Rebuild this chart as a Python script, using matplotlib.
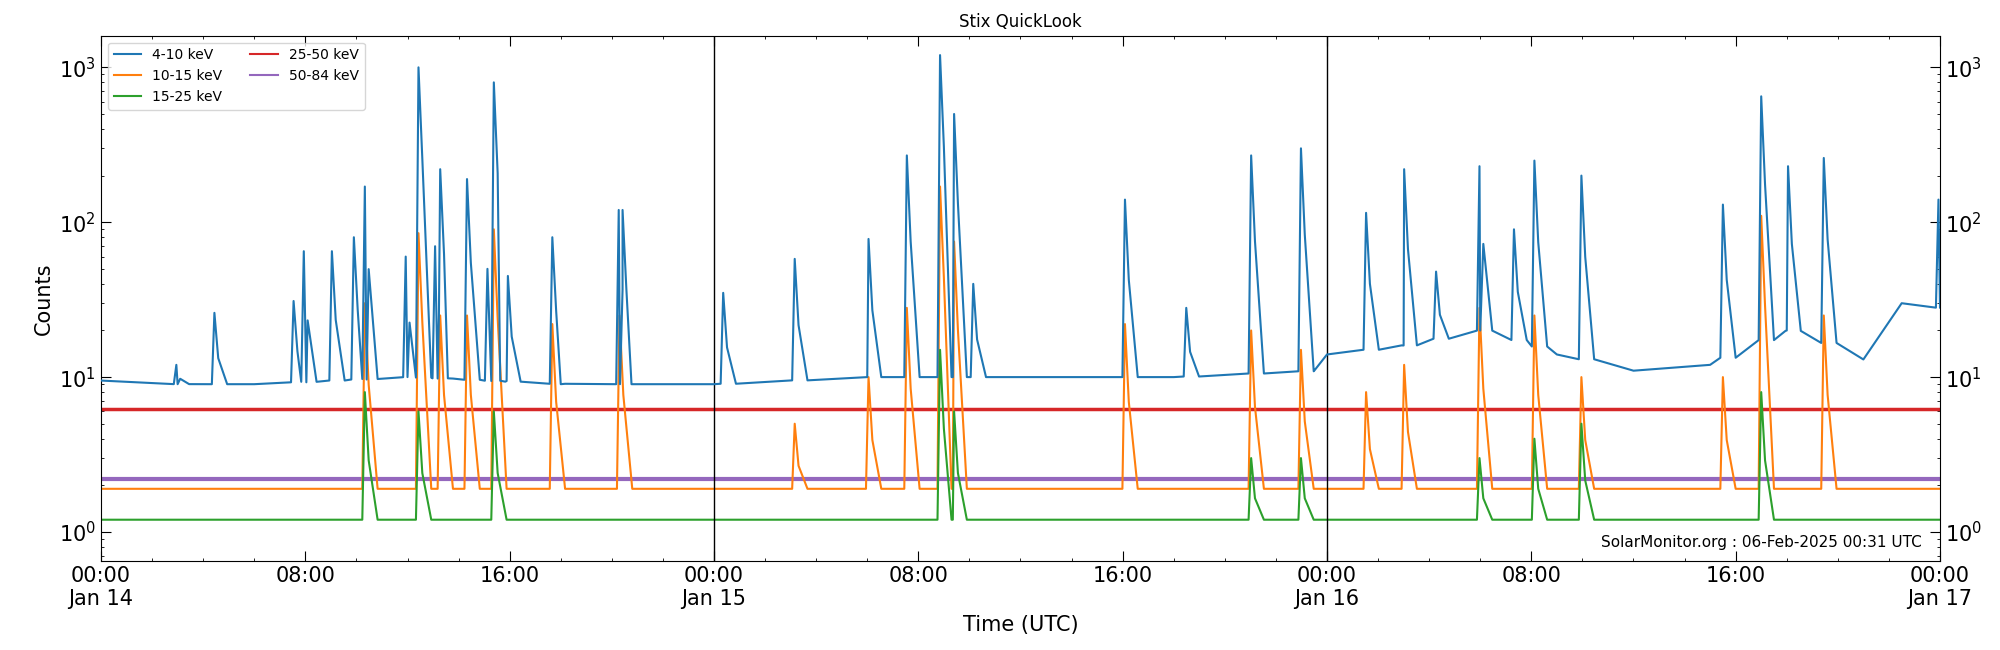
import matplotlib
matplotlib.use("Agg")
import matplotlib.pyplot as plt
import numpy as np

# Peak times (hours since Jan 14 00:00 UTC) and peak counts
peak_hours_4_10 = [2.95, 4.44, 7.54, 7.94, 9.04, 9.9, 10.33, 11.93, 12.43, 13.08, 13.28, 14.33, 15.13, 15.38,
                   15.93, 17.67, 20.27, 20.42, 24.36, 27.16, 30.05, 31.55, 32.85, 33.4, 34.15, 40.09, 42.49,
                   45.03, 46.98, 49.53, 51.02, 52.27, 53.97, 55.32, 56.12, 57.96, 63.5, 65.0, 66.05, 67.45, 71.94]
peak_vals_4_10 = [12, 26, 31, 65, 65, 80, 170, 60, 1000, 70, 220, 190, 50, 800,
                  45, 80, 120, 120, 35, 58, 78, 270, 1200, 500, 40, 140, 28,
                  270, 300, 115, 220, 48, 230, 90, 250, 200, 130, 650, 230, 260, 140]
base_hours_4_10 = [0, 3, 6, 12, 18, 23, 24, 30, 36, 42, 47.5, 48, 51, 54, 57, 60, 63, 66, 69, 70.5, 72]
base_vals_4_10 = [9.5, 9, 9, 10, 9, 9, 9, 10, 10, 10, 11, 14, 16, 20, 14, 11, 12, 20, 13, 30, 28]

peak_hours_10_15 = [10.33, 12.43, 13.28, 14.33, 15.38, 17.67, 20.3, 27.16, 30.05, 31.55, 32.85, 33.4, 40.09,
                    45.03, 46.98, 49.53, 51.02, 53.97, 56.12, 57.96, 63.5, 65.0, 67.45]
peak_vals_10_15 = [30, 85, 25, 25, 90, 22, 25, 5, 10, 28, 170, 75, 22,
                   20, 15, 8, 12, 28, 25, 10, 10, 110, 25]
base_10_15 = 1.9

peak_hours_15_25 = [10.33, 12.43, 15.38, 32.85, 33.4, 45.03, 46.98, 53.97, 56.12, 57.96, 65.0]
peak_vals_15_25 = [8, 6, 6, 15, 6, 3, 3, 3, 4, 5, 8]
base_15_25 = 1.2

level_25_50 = 6.2
level_50_84 = 2.2

labels = ["4-10 keV", "10-15 keV", "15-25 keV", "25-50 keV", "50-84 keV"]
colors = ["#1f77b4", "#ff7f0e", "#2ca02c", "#d62728", "#9467bd"]


def build(ph, pv, bh, bv):
    pts = {}
    for h in bh:
        pts[h] = np.interp(h, bh, bv)
    for h, v in zip(ph, pv):
        b = np.interp(h, bh, bv)
        pts[h - 0.1] = b
        pts[h] = v
        pts[h + 0.15] = b + (v - b) * 0.25
        pts[h + 0.5] = b
    ks = sorted(pts)
    return ks, [pts[k] for k in ks]


fig, ax = plt.subplots(figsize=(20, 6.5), dpi=100)
fig.subplots_adjust(left=0.0505, right=0.97, top=0.945, bottom=0.137)

series = [
    build(peak_hours_4_10, peak_vals_4_10, base_hours_4_10, base_vals_4_10),
    build(peak_hours_10_15, peak_vals_10_15, [0, 72], [base_10_15] * 2),
    build(peak_hours_15_25, peak_vals_15_25, [0, 72], [base_15_25] * 2),
    ([0, 72], [level_25_50] * 2),
    ([0, 72], [level_50_84] * 2),
]
order = [3, 4, 1, 2, 0]
lws = [1.5, 1.5, 1.5, 2.5, 3]
for i in order:
    x, y = series[i]
    ax.plot(x, y, color=colors[i], lw=lws[i], label=labels[i], zorder=2 + (i == 0))

handles, labs = ax.get_legend_handles_labels()
lookup = dict(zip(labs, handles))
leg = ax.legend([lookup[l] for l in labels], labels, ncol=2, loc="upper left", fontsize=10)
for h in leg.legend_handles:
    h.set_linewidth(1.5)

for d in [24, 48]:
    ax.axvline(d, color="black", lw=1)

ax.set_yscale("log")
ax.set_ylim(0.65, 1600)
ax.set_xlim(0, 72)
ticks = np.arange(0, 73, 8)
ax.set_xticks(ticks)
ax.set_xticks(np.arange(0, 73, 2), minor=True)
days = {0: "Jan 14", 24: "Jan 15", 48: "Jan 16", 72: "Jan 17"}
ax.set_xticklabels([f"{int(t % 24):02d}:00" + ("\n" + days[t] if t in days else "") for t in ticks])
ax.tick_params(which="both", direction="in", top=True, right=True, labelright=True, labelsize=15)
ax.tick_params(which="major", length=7)
ax.set_ylabel("Counts", fontsize=15)
ax.set_xlabel("Time (UTC)", fontsize=15)
ax.set_title("Stix QuickLook", fontsize=12)
ax.text(0.99, 0.02, "SolarMonitor.org : 06-Feb-2025 00:31 UTC", transform=ax.transAxes,
        ha="right", va="bottom", fontsize=11)
fig.savefig("out.png")
